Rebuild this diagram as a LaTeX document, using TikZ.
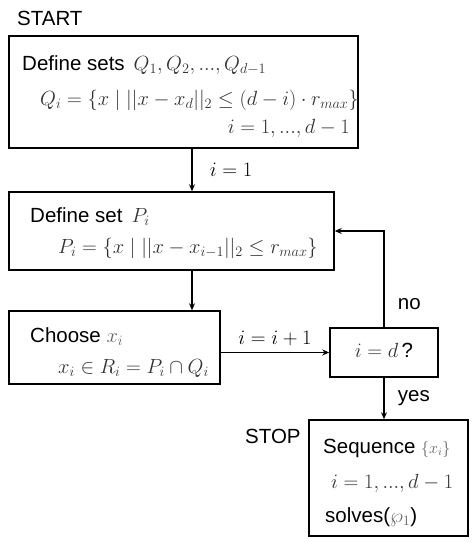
\documentclass[tikz,border=0pt]{standalone}
\usepackage{fix-cm}
\usepackage{amsmath}
\usepackage{amssymb}
\usepackage{fontspec}
\setmainfont{Liberation Sans}
\usepackage{xcolor}
\usetikzlibrary{arrows.meta}
\definecolor{mathgray}{gray}{0.2}
\definecolor{lightgray}{gray}{0.38}

\begin{document}
\begin{tikzpicture}[x=1pt,y=-1pt,font=\fontsize{20.5}{24}\selectfont,
        box/.style={draw, line width=1.5pt, inner sep=0pt},
        txt/.style={anchor=base west, inner sep=0pt},
        link/.style={line width=1.2pt, -{Stealth[length=7pt,width=6pt]}}]
        \useasboundingbox (0,0) rectangle (474,542);
        \node[box, minimum width=349pt, minimum height=112pt] (sets) at (183.5,92) {};
        \node[box, minimum width=325pt, minimum height=78pt] (setP) at (171.5,231) {};
        \node[box, minimum width=211pt, minimum height=73pt] (choose) at (114.5,347.5) {};
        \node[box, minimum width=108pt, minimum height=49pt] (check) at (384,352.5) {};
        \node[box, minimum width=159pt, minimum height=116pt] (seq) at (388.5,478) {};
        \coordinate (spine) at (192,0);
        \node[txt] (start) at (17,25) {START};
        \node[txt] (stop) at (245,443) {STOP};
        \node[txt] (setsA) at (22,70) {Define sets\hspace{9pt}\textcolor{mathgray}{$Q_1,Q_2,...,Q_{d-1}$}};
        \node[txt] (setsB) at (40,105) {\textcolor{mathgray}{$Q_i=\{x\mid ||x-x_d||_2\le(d-i)\cdot r_{max}\}$}};
        \node[anchor=base east, inner sep=0pt] (setsC) at (350,133) {\textcolor{mathgray}{$i=1,...,d-1$}};
        \node[txt] (setPA) at (30,222) {Define set\hspace{9pt}\textcolor{mathgray}{$P_i$}};
        \node[txt] (setPB) at (58,253) {\textcolor{mathgray}{$P_i=\{x\mid ||x-x_{i-1}||_2\le r_{max}\}$}};
        \node[txt] (chooseA) at (30,342) {Choose \textcolor{lightgray}{$x_i$}};
        \node[txt] (chooseB) at (58,373) {\textcolor{mathgray}{$x_i\in R_i=P_i\cap Q_i$}};
        \node[anchor=base, inner sep=0pt] (checkA) at (384,357) {\textcolor{mathgray}{$i=d\,$}?};
        \node[txt] (seqA) at (323,453) {Sequence \textcolor{lightgray}{\fontsize{16}{18}\selectfont$\{x_i\}$}};
        \node[txt] (seqB) at (331,488) {\textcolor{mathgray}{$i=1,...,d-1$}};
        \node[txt] (seqC) at (325,522) {solves(\textcolor{lightgray}{$\wp_1$})};
        \draw[link] (sets.south -| spine) -- node[right=14pt] (lab1) {$i=1$} (setP.north -| spine);
        \draw[link] (setP.south -| spine) -- (choose.north -| spine);
        \draw[link] (choose.east |- check.west) -- node[above=3pt] (lab2) {$i=i+1$} (check.west);
        \draw[link] (check.north) |- node[pos=0.12, right=10pt] (lab3) {no} (setP.east);
        \draw[link] (check.south) -- node[right=10pt] (lab4) {yes} (check.south |- seq.north);
    \end{tikzpicture}
\end{document}
